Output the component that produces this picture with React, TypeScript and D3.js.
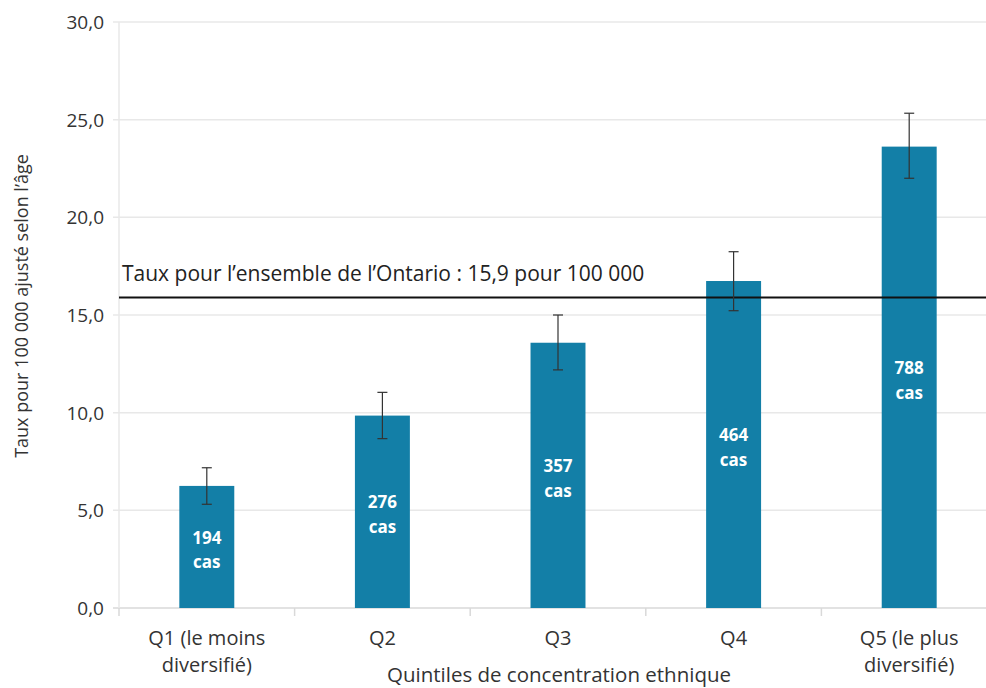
import React, { useEffect, useRef } from 'react';
import * as d3 from 'd3';

const categories = ['Q1 (le moins|diversifié)', 'Q2', 'Q3', 'Q4', 'Q5 (le plus|diversifié)'];
const rates = [6.25, 9.85, 13.58, 16.74, 23.62];
const lowerCI = [5.31, 8.67, 12.19, 15.22, 22.0];
const upperCI = [7.18, 11.04, 15.0, 18.24, 25.33];
const caseCounts = ['194', '276', '357', '464', '788'];
const yTicks = [0, 5, 10, 15, 20, 25, 30];
const ontarioRate = 15.9;

const W = 986;
const H = 688;
const FONT = '"Open Sans", sans-serif';

export default function App() {
  const svgRef = useRef<SVGSVGElement | null>(null);

  useEffect(() => {
    const svg = d3.select(svgRef.current);
    svg.selectAll('*').remove();

    const margin = { top: 22, right: -11, bottom: 80, left: 119 };
    const x0 = margin.left;
    const x1 = W - margin.right;
    const y0 = H - margin.bottom;

    const x = d3.scaleBand<number>().domain(d3.range(categories.length)).range([x0, x1]).paddingInner(0.687).paddingOuter(0.3435);
    const xb = d3.scaleBand<number>().domain(d3.range(categories.length)).range([x0, x1]);
    const y = d3.scaleLinear().domain([0, 30]).range([y0, margin.top]);

    // gridlines + y ticks
    const grid = svg.append('g');
    yTicks.forEach(t => {
      grid.append('line')
        .attr('x1', x0 - 6).attr('x2', x1)
        .attr('y1', y(t)).attr('y2', y(t))
        .attr('stroke', t === 0 ? '#d9d9d9' : '#e8e8e8').attr('stroke-width', 1.5);
      grid.append('text')
        .attr('x', 104).attr('y', y(t))
        .attr('dy', '0.36em')
        .attr('text-anchor', 'end')
        .attr('font-family', FONT).attr('font-size', 19)
        .attr('fill', '#333')
        .text(d3.format('.1f')(t).replace('.', ','));
    });
    grid.append('line')
      .attr('x1', x0).attr('x2', x0)
      .attr('y1', margin.top).attr('y2', y0)
      .attr('stroke', '#e8e8e8').attr('stroke-width', 1.5);

    // x ticks at category boundaries
    d3.range(categories.length + 1).forEach(i => {
      const bx = i < categories.length ? xb(i)! : x1;
      svg.append('line')
        .attr('x1', bx).attr('x2', bx)
        .attr('y1', y0).attr('y2', y0 + 8)
        .attr('stroke', '#d9d9d9').attr('stroke-width', 1.5);
    });

    // bars
    svg.append('g').selectAll('rect')
      .data(rates)
      .join('rect')
      .attr('x', (d, i) => x(i)!)
      .attr('width', x.bandwidth())
      .attr('y', d => y(d))
      .attr('height', d => y0 - y(d))
      .attr('fill', '#137fa7');

    // reference line
    svg.append('line')
      .attr('x1', x0).attr('x2', W)
      .attr('y1', y(ontarioRate)).attr('y2', y(ontarioRate))
      .attr('stroke', '#111').attr('stroke-width', 2);
    svg.append('text')
      .attr('x', 122).attr('y', y(ontarioRate) - 16)
      .attr('font-family', FONT).attr('font-size', 21)
      .attr('fill', '#222')
      .text('Taux pour l\u2019ensemble de l\u2019Ontario : 15,9 pour 100 000');

    // error bars
    const eg = svg.append('g').attr('stroke', '#333').attr('stroke-width', 1.2);
    rates.forEach((_, i) => {
      const cx = x(i)! + x.bandwidth() / 2;
      eg.append('line').attr('x1', cx).attr('x2', cx).attr('y1', y(lowerCI[i])).attr('y2', y(upperCI[i]));
      [lowerCI[i], upperCI[i]].forEach(v => {
        eg.append('line').attr('x1', cx - 5).attr('x2', cx + 5).attr('y1', y(v)).attr('y2', y(v));
      });
    });

    // case labels
    rates.forEach((d, i) => {
      const cx = x(i)! + x.bandwidth() / 2;
      const mid = (y(d) + y0) / 2;
      const t = svg.append('text')
        .attr('x', cx).attr('y', mid)
        .attr('text-anchor', 'middle')
        .attr('font-family', FONT).attr('font-size', 17).attr('font-weight', 700)
        .attr('fill', '#fff');
      t.append('tspan').attr('x', cx).attr('dy', '-0.2em').text(caseCounts[i]);
      t.append('tspan').attr('x', cx).attr('dy', '1.45em').text('cas');
    });

    // x labels
    categories.forEach((c, i) => {
      const cx = xb(i)! + xb.bandwidth() / 2;
      const lines = c.split('|');
      lines.forEach((ln, j) => {
        svg.append('text')
          .attr('x', cx).attr('y', 645 + j * 27)
          .attr('text-anchor', 'middle')
          .attr('font-family', FONT).attr('font-size', 20)
          .attr('fill', '#333')
          .text(ln);
      });
    });

    // axis titles
    svg.append('text')
      .attr('x', 559)
      .attr('y', 682)
      .attr('text-anchor', 'middle')
      .attr('font-family', FONT).attr('font-size', 20.5)
      .attr('fill', '#333')
      .text('Quintiles de concentration ethnique');

    svg.append('text')
      .attr('transform', `translate(28, 306) rotate(-90)`)
      .attr('text-anchor', 'middle')
      .attr('font-family', FONT).attr('font-size', 18)
      .attr('fill', '#333')
      .text('Taux pour 100 000 ajusté selon l\u2019âge');
  }, []);

  return (
    <svg
      ref={svgRef}
      width={W}
      height={H}
      style={{ position: 'fixed', left: 0, top: 0, background: '#fff' }}
    />
  );
}
